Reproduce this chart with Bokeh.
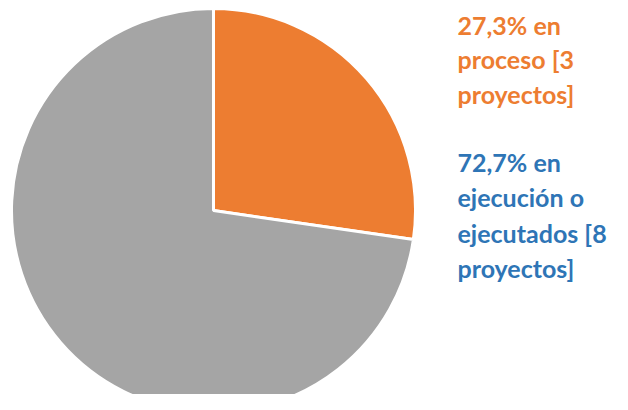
import numpy as np
from bokeh.plotting import figure
from bokeh.models import ColumnDataSource, Range1d
from bokeh.core.properties import value
from bokeh.embed import file_html
from bokeh.resources import INLINE

categories = ["en proceso", "en ejecución o ejecutados"]
percents = [27.3, 72.7]
colors = ["#ED7D31", "#A5A5A5"]
label_orange = ["27,3% en", "proceso [3", "proyectos]"]
label_blue = ["72,7% en", "ejecución o", "ejecutados [8", "proyectos]"]

W, H = 612, 394
p = figure(width=W, height=H, output_backend="svg", toolbar_location=None,
           x_range=Range1d(0, W), y_range=Range1d(0, H), min_border=0)
p.axis.visible = False
p.grid.visible = False
p.outline_line_color = None
p.background_fill_color = "white"

fr = np.array(percents) / sum(percents)
ends = np.pi / 2 - 2 * np.pi * np.concatenate([[0], np.cumsum(fr)[:-1]])
starts = np.pi / 2 - 2 * np.pi * np.cumsum(fr)
src = ColumnDataSource(dict(start=starts, end=ends, color=colors, cat=categories))
p.wedge(x=213, y=H - 210, radius=202, start_angle="start", end_angle="end",
        fill_color="color", line_color="white", line_width=3, source=src)

font = value("Lato")
x0 = 457
fs = "25px"
for i, t in enumerate(label_orange):
    p.text(x=[x0], y=[H - 24 - 34.7 * i], text=[t], text_color="#ED7D31",
           text_font=font, text_font_style="bold", text_font_size=fs,
           text_baseline="alphabetic", text_align="left")
for i, t in enumerate(label_blue):
    p.text(x=[x0], y=[H - 161 - 35.5 * i], text=[t], text_color="#2E75B6",
           text_font=font, text_font_style="bold", text_font_size=fs,
           text_baseline="alphabetic", text_align="left")

open("out.html", "w").write(file_html(p, INLINE))
